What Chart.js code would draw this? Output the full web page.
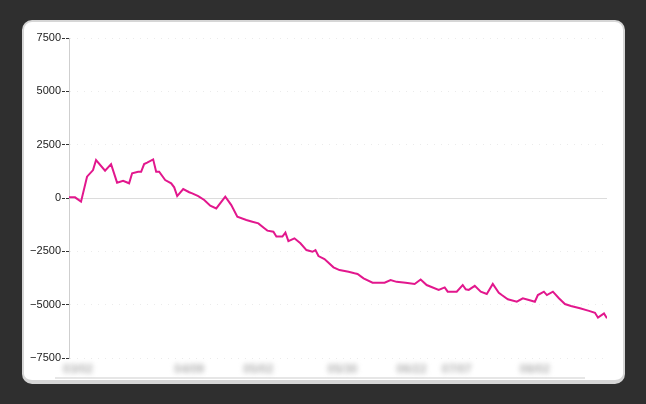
<!DOCTYPE html>
<html>
<head>
<meta charset="utf-8">
<script src="https://cdn.jsdelivr.net/npm/chart.js@4"></script>
<style>
    html, body { margin: 0; padding: 0; }
    body {
        width: 646px; height: 404px; overflow: hidden;
        background: #2f2f2f;
        position: relative;
    }
    #card {
        position: absolute; left: 22px; top: 20px;
        width: 599px; height: 358px;
        background: #fff;
        border: 2px solid #d6d6d6;
        border-bottom-width: 4px;
        border-radius: 10px;
    }
    #track {
        position: absolute; left: 55px; top: 377px;
        width: 530px; height: 2px; background: #e6e6e6;
    }
    #chart { position: absolute; left: 0; top: 0; }
</style>
</head>
<body>
<div id="card"></div>
<div id="track"></div>
<canvas id="chart" width="646" height="404"></canvas>
<script>
// Day index along the x axis and running balance
const days = [
    0, 2, 4, 6, 8, 9, 12, 14, 16, 18, 20, 21, 23, 24, 25, 26, 28, 29, 30, 32,
    34, 35, 36, 38, 40, 41, 43, 45, 47, 49, 52, 54, 56, 59, 61, 63, 65, 66, 68, 69,
    71, 72, 73, 75, 77, 79, 81, 82, 83, 85, 88, 90, 93, 95, 96, 98, 101, 105, 107, 109,
    112, 115, 117, 119, 123, 125, 126, 129, 131, 132, 133, 135, 137, 139, 141, 143, 144, 146, 149, 151,
    153, 155, 156, 158, 159, 161, 163, 165, 167, 170, 173, 175, 176, 178, 179,
];
const balance = [
    30, 30, -170, 1000, 1310, 1780, 1280, 1590, 720, 810, 690, 1160, 1230, 1230, 1590, 1660, 1810, 1230, 1230, 840,
    690, 500, 90, 420, 270, 220, 90, -90, -360, -490, 60, -330, -880, -1030, -1110, -1190, -1420, -1530, -1580, -1810,
    -1810, -1620, -2020, -1890, -2120, -2440, -2520, -2440, -2720, -2860, -3250, -3380, -3460, -3530, -3560, -3770, -3970, -3970, -3850, -3930,
    -3970, -4030, -3820, -4080, -4310, -4190, -4390, -4390, -4080, -4280, -4310, -4120, -4390, -4500, -4030, -4440, -4550, -4750, -4860, -4700,
    -4780, -4860, -4550, -4390, -4550, -4390, -4700, -4970, -5060, -5170, -5290, -5380, -5610, -5410, -5640,
];

// x labels (blurred in the original) and where they sit
const xLabelDays = [3, 40, 63, 91, 114, 129, 155];
const xLabels    = ['03/02', '04/09', '05/02', '05/30', '06/22', '07/07', '08/02'];

const yTicks = [-7500, -5000, -2500, 0, 2500, 5000, 7500];

const blurredLabels = {
    id: 'blurredLabels',
    afterDraw(chart) {
        const { ctx, scales: { x } } = chart;
        ctx.save();
        ctx.filter = 'blur(2.5px)';
        ctx.fillStyle = '#b4b4b4';
        ctx.font = 'bold 12px "Liberation Sans", Arial, sans-serif';
        ctx.textAlign = 'center';
        ctx.textBaseline = 'middle';
        xLabels.forEach((label, i) => {
            ctx.fillText(label, x.getPixelForValue(xLabelDays[i]), 370);
        });
        ctx.restore();
    },
};

new Chart(document.getElementById('chart'), {
    type: 'line',
    data: {
        datasets: [{
            data: days.map((d, i) => ({ x: d, y: balance[i] })),
            borderColor: '#e2178d',
            borderWidth: 2,
            pointRadius: 0,
            tension: 0,
        }],
    },
    options: {
        responsive: false,
        animation: false,
        layout: { padding: { left: 0, top: 38, right: 39, bottom: 46 } },
        plugins: {
            legend: { display: false },
            tooltip: { enabled: false },
        },
        scales: {
            x: {
                type: 'linear',
                min: 0,
                max: 179,
                grid: { display: false },
                border: { display: false },
                ticks: { display: false },
                afterFit: scale => { scale.height = 0; },
            },
            y: {
                min: -7500,
                max: 7500,
                afterBuildTicks: scale => { scale.ticks = yTicks.map(v => ({ value: v })); },
                afterFit: scale => { scale.width = 69; },
                ticks: {
                    color: '#222',
                    padding: 1,
                    font: { family: '"Liberation Sans", Arial, sans-serif', size: 11 },
                    callback: v => String(v).replace('-', '\u2212'),
                },
                grid: {
                    color: c => c.tick && c.tick.value === 0 ? '#dcdcdc' : '#ebebeb',
                    lineWidth: 1,
                    tickLength: 7,
                    tickColor: '#333',
                    tickBorderDash: [3, 1],
                },
                border: {
                    display: true,
                    color: '#cfcfcf',
                    width: 1,
                    dash: c => c.tick && c.tick.value === 0 ? [] : [1, 6],
                },
            },
        },
    },
    plugins: [blurredLabels],
});
</script>
</body>
</html>
